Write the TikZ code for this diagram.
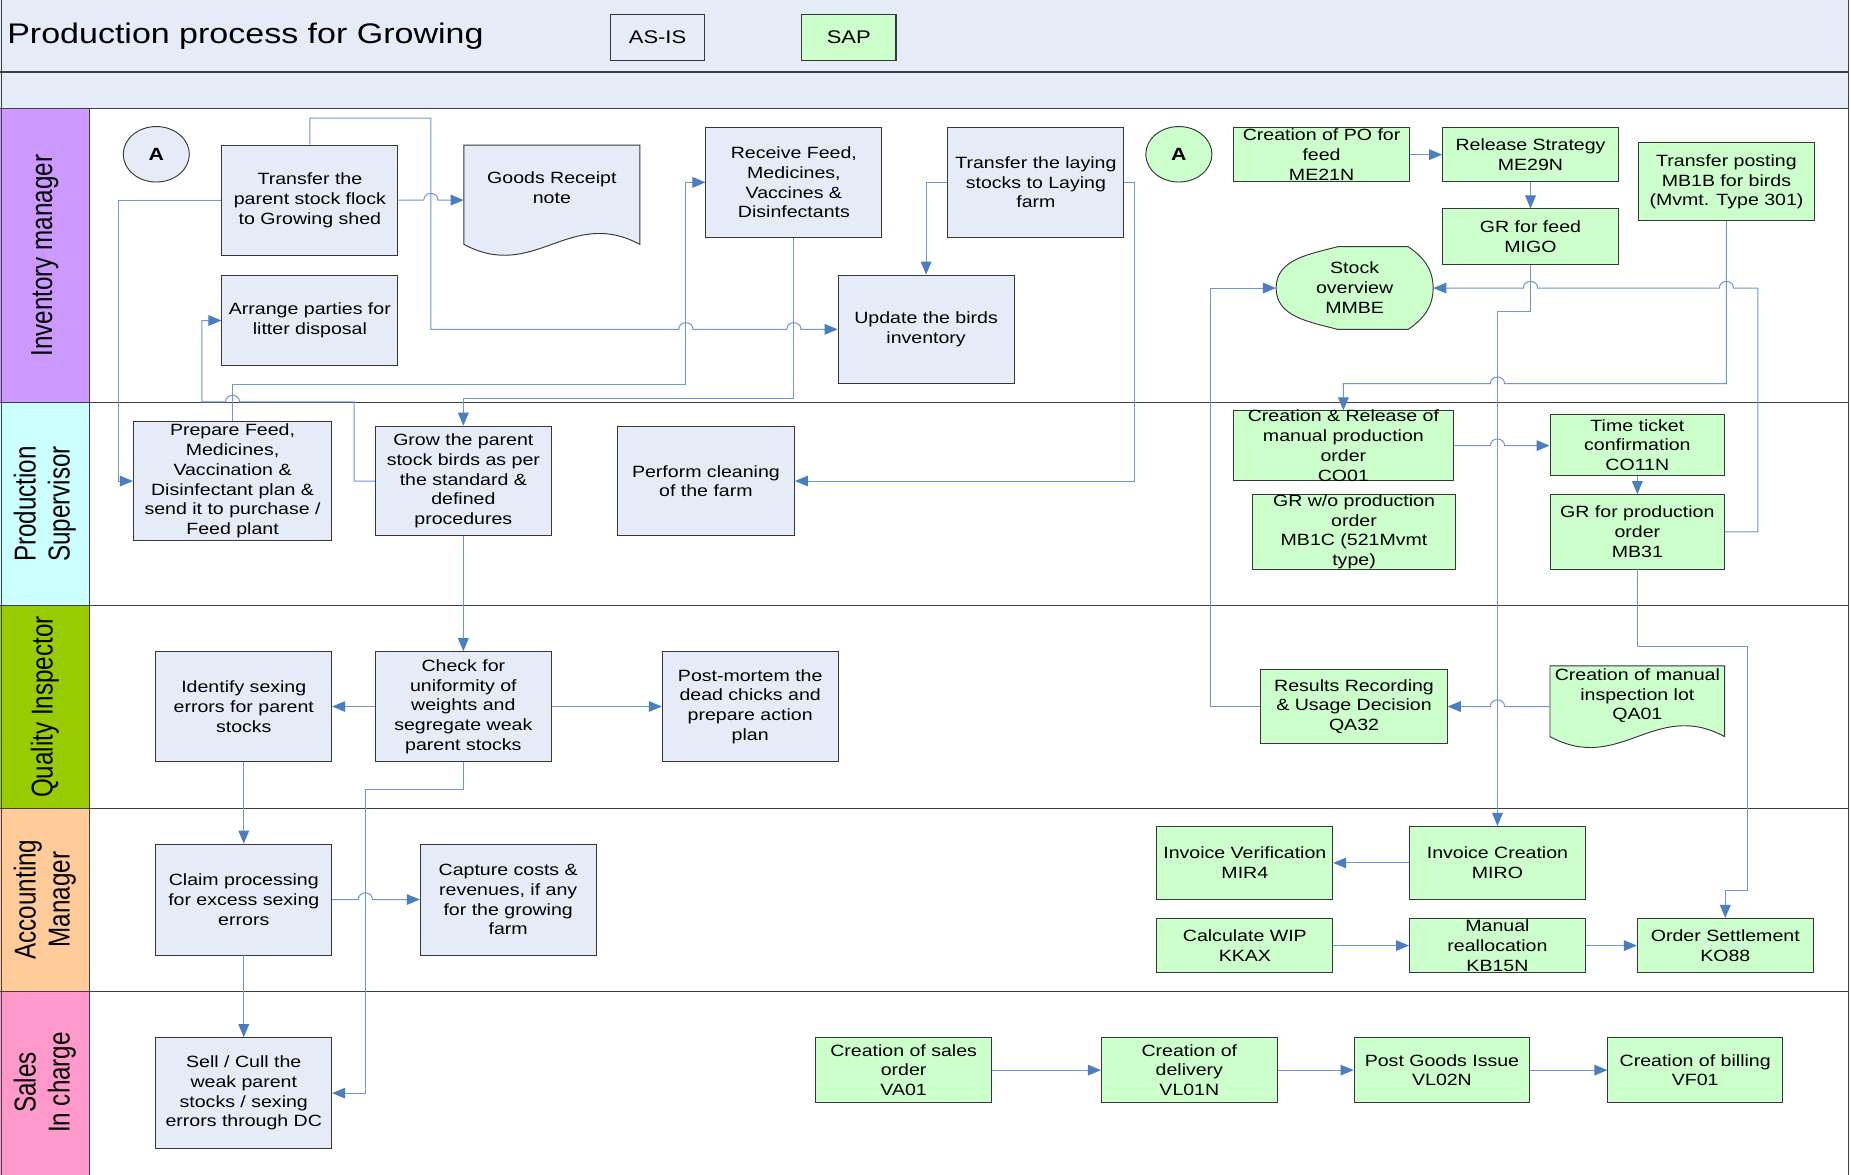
\documentclass[tikz,border=0pt]{standalone}
\usepackage{fontspec}
\setmainfont{Liberation Sans}[FakeStretch=1.2]
\newfontfamily\lanefont{Liberation Sans}
\usetikzlibrary{arrows.meta,shapes.geometric,calc}
\definecolor{hdr}{RGB}{230,236,247}
\definecolor{asisc}{RGB}{230,236,247}
\definecolor{sapc}{RGB}{204,255,204}
\definecolor{linec}{RGB}{110,150,210}
\definecolor{arrc}{RGB}{74,126,193}
\definecolor{edge}{RGB}{55,55,55}
\definecolor{lanegray}{RGB}{64,64,64}
\definecolor{invc}{RGB}{204,153,255}
\definecolor{prodc}{RGB}{204,255,255}
\definecolor{qualc}{RGB}{153,204,0}
\definecolor{accc}{RGB}{255,204,153}
\definecolor{salesc}{RGB}{255,153,204}
\newcommand\boxfont{\fontsize{13.8}{16.7}\selectfont}
\newcommand\bx[7]{%
  \node[#2, minimum width={#5pt-#3pt}, minimum height={#6pt-#4pt}] (#1) at ({(#3+#5)/2},{(#4+#6)/2}) {};
  \node[txt] (#1-t) at (#1.center) {#7};}
\tikzset{
  asis/.style={draw=edge, line width=0.8pt, fill=asisc, inner sep=0pt},
  sap/.style={draw=edge, line width=0.8pt, fill=sapc, inner sep=0pt},
  ghost/.style={draw=none, inner sep=0pt},
  txt/.style={align=center, font=\boxfont, inner sep=0pt, text=black},
  con/.style={draw=linec, line width=0.85pt, -{Triangle[length=11pt,width=9pt,color=arrc]}},
  lane/.style={draw=lanegray, line width=1.4pt},
  lanelabel/.style={rotate=90, yscale=1.25, font=\lanefont\fontsize{20.5}{23}\selectfont, align=center, inner sep=0pt},
  legend/.style={draw=edge, line width=0.9pt, minimum width=80pt, minimum height=39pt, inner sep=0pt, font=\fontsize{15.5}{18}\selectfont},
  conn/.style={ellipse, draw=edge, line width=0.8pt, minimum width=56pt, minimum height=47pt, inner sep=0pt, font=\fontsize{15}{18}\selectfont\bfseries}
}
\begin{document}
\begin{tikzpicture}[x=1pt,y=-1pt]
\useasboundingbox (0,0) rectangle (1568,995);
\fill[white] (0,0) rectangle (1568,995);
\fill[hdr] (0,0) rectangle (1566,92);
% lane label fills
\fill[invc] (0,92) rectangle (76,341);
\fill[prodc] (0,341) rectangle (76,513);
\fill[qualc] (0,513) rectangle (76,685);
\fill[accc] (0,685) rectangle (76,840);
\fill[salesc] (0,840) rectangle (76,995);
% frame and lane lines
\draw[lane] (0,61) -- (1566,61);
\draw[lane] (0,92) -- (1566,92);
\draw[lane] (0,341) -- (1566,341);
\draw[lane] (0,513) -- (1566,513);
\draw[lane] (0,685) -- (1566,685);
\draw[lane] (0,840) -- (1566,840);
\draw[draw=lanegray, line width=1pt] (76,92) -- (76,995);
\draw[draw=lanegray, line width=1pt] (1,0) -- (1,995);
\draw[lane] (1566,0) -- (1566,995);

% title and legend
\node[anchor=base west, inner sep=0pt, font=\fontsize{24}{28}\selectfont] (title) at (6,36.5) {Production process for Growing};
\node[legend, fill=asisc] (asislegend) at (557,31.5) {AS-IS};
\node[legend, fill=sapc] (saplegend) at (719,31.5) {SAP};

% lane labels
\node[lanelabel] (lab-inv) at (38,216.5) {Inventory manager};
\node[lanelabel] (lab-prod) at (38,427) {Production\\Supervisor};
\node[lanelabel] (lab-qual) at (38,599) {Quality Inspector};
\node[lanelabel] (lab-acc) at (38,762) {Accounting\\Manager};
\node[lanelabel] (lab-sales) at (38,917) {Sales\\In charge};

% connectors circles
\node[conn, fill=asisc] (ca1) at (132.4,130.7) {A};
\node[conn, fill=sapc] (ca2) at (998.6,130.7) {A};

% Inventory manager lane
\bx{t1}{asis}{188}{123}{337}{216}{Transfer the\\parent stock flock\\to Growing shed}
\bx{ap}{asis}{188}{233}{337}{310}{Arrange parties for\\litter disposal}
\draw[asis] (393,123) -- (542,123) -- (542,207) .. controls (482.4,175) and (452.6,239) .. (393,207) -- cycle;
\node[ghost, minimum width=149pt, minimum height=84pt] (grn) at (467.5,165) {};
\node[txt] (grn-t) at (467.5,159) {Goods Receipt\\note};
\bx{rf}{asis}{598}{108}{747}{201}{Receive Feed,\\Medicines,\\Vaccines \&\\Disinfectants}
\bx{tl}{asis}{803}{108}{952}{201}{Transfer the laying\\stocks to Laying\\farm}
\bx{ub}{asis}{710}{233}{859}{325}{Update the birds\\inventory}
\bx{po}{sap}{1045}{108}{1194}{154}{Creation of PO for\\feed\\ME21N}
\bx{rs}{sap}{1222}{108}{1371}{154}{Release Strategy\\ME29N}
\bx{grf}{sap}{1222}{177}{1371}{224}{GR for feed\\MIGO}
\bx{tp}{sap}{1388}{121}{1537}{187}{Transfer posting\\MB1B for birds\\(Mvmt. Type 301)}
\draw[sap] (1133,209) -- (1193,209) to[out=-35,in=90] (1214,244) to[out=-90,in=35] (1193,279) -- (1133,279) to[out=165,in=-90] (1081,244) to[out=90,in=195] (1133,209) -- cycle;
\node[ghost, minimum width=133pt, minimum height=70pt] (mmbe) at (1147.5,244) {};
\node[txt] (mmbe-t) at (1147.5,243.5) {Stock\\overview\\MMBE};

% Production supervisor lane
\bx{pf}{asis}{113}{357}{281}{458}{Prepare Feed,\\Medicines,\\Vaccination \&\\Disinfectant plan \&\\send it to purchase /\\Feed plant}
\bx{gp}{asis}{318}{361}{467}{454}{Grow the parent\\stock birds as per\\the standard \&\\defined\\procedures}
\bx{pc}{asis}{523}{361}{673}{454}{Perform cleaning\\of the farm}
\bx{cr}{sap}{1045}{348}{1231}{407}{Creation \& Release of\\manual production\\order\\CO01}
\bx{grw}{sap}{1061}{419}{1233}{482}{GR w/o production\\order\\MB1C (521Mvmt\\type)}
\bx{tt}{sap}{1313}{351}{1461}{403}{Time ticket\\confirmation\\CO11N}
\bx{grp}{sap}{1313}{419}{1461}{482}{GR for production\\order\\MB31}

% Quality inspector lane
\bx{is}{asis}{132}{552}{281}{645}{Identify sexing\\errors for parent\\stocks}
\bx{cu}{asis}{318}{552}{467}{645}{Check for\\uniformity of\\weights and\\segregate weak\\parent stocks}
\bx{pm}{asis}{561}{552}{710}{645}{Post-mortem the\\dead chicks and\\prepare action\\plan}
\bx{rr}{sap}{1068}{567}{1226}{630}{Results Recording\\\& Usage Decision\\QA32}
\draw[sap] (1313,564) -- (1461,564) -- (1461,624) .. controls (1401.8,592) and (1372.2,656) .. (1313,624) -- cycle;
\node[ghost, minimum width=148pt, minimum height=69pt] (qa) at (1387,598.5) {};
\node[txt] (qa-t) at (1387,589.5) {Creation of manual\\inspection lot\\QA01};

% Accounting manager lane
\bx{cp}{asis}{132}{715}{281}{809}{Claim processing\\for excess sexing\\errors}
\bx{cc}{asis}{356}{715}{505}{809}{Capture costs \&\\revenues, if any\\for the growing\\farm}
\bx{iv}{sap}{980}{700}{1129}{762}{Invoice Verification\\MIR4}
\bx{ic}{sap}{1194}{700}{1343}{762}{Invoice Creation\\MIRO}
\bx{cw}{sap}{980}{778}{1129}{824}{Calculate WIP\\KKAX}
\bx{mr}{sap}{1194}{778}{1343}{824}{Manual\\reallocation\\KB15N}
\bx{os}{sap}{1387}{778}{1536}{824}{Order Settlement\\KO88}

% Sales lane
\bx{sc}{asis}{132}{879}{281}{973}{Sell / Cull the\\weak parent\\stocks / sexing\\errors through DC}
\bx{va}{sap}{691}{879}{840}{934}{Creation of sales\\order\\VA01}
\bx{vl}{sap}{933}{879}{1082}{934}{Creation of\\delivery\\VL01N}
\bx{pgi}{sap}{1147}{879}{1296}{934}{Post Goods Issue\\VL02N}
\bx{bl}{sap}{1362}{879}{1510}{934}{Creation of billing\\VF01}

% ---- connectors ----
\draw[con] (t1.north) -- (262.5,100) -- (365,100) -- (365,279) -- (575,279) .. controls (575,271.5) and (587,271.5) .. (587,279) -- (666.5,279) .. controls (666.5,271.5) and (678.5,271.5) .. (678.5,279) -- (ub.west);
\draw[con] (t1.east) -- (359,169.5) .. controls (359,162) and (371,162) .. (371,169.5) -- (t1.east -| grn.west);
\draw[con] (t1.west) -- (100,169.5) -- (100,407.5) -- (pf.west);
\draw[con] (pf.north) -- (197,326) -- (581,326) -- (581,154.5) -- (rf.west);
\draw[con] (gp.west) -- (300,407.5) -- (300,340.5) -- (203,340.5) .. controls (203,333) and (191,333) .. (191,340.5) -- (171,340.5) -- (171,271.5) -- (ap.west);
\draw[con] (rf.south) -- (672.5,337.5) -- (392.5,337.5) -- (gp.north);
\draw[con] (tl.west) -- (784.5,154.5) -- (ub.north);
\draw[con] (tl.east) -- (961,154.5) -- (961,407.5) -- (pc.east);
\draw[con] (po.east) -- (rs.west);
\draw[con] (rs.south) -- (grf.north);
\draw[con] (grf.south) -- (1296.5,263.5) -- (1268.5,263.5) -- (ic.north);
\draw[con] (grp.east) -- (1489,450.5) -- (1489,244) -- (1468.5,244) .. controls (1468.5,236.5) and (1456.5,236.5) .. (1456.5,244) -- (1302.5,244) .. controls (1302.5,236.5) and (1290.5,236.5) .. (1290.5,244) -- (mmbe.east);
\draw[con] (tp.south) -- (1462.5,325) -- (1274.5,325) .. controls (1274.5,317.5) and (1262.5,317.5) .. (1262.5,325) -- (1138,325) -- (cr.north);
\draw[con] (rr.west) -- (1025,598.5) -- (1025,244) -- (mmbe.west);
\draw[con] (cr.east) -- (1262.5,377.5) .. controls (1262.5,370) and (1274.5,370) .. (1274.5,377.5) -- (cr.east -| tt.west);
\draw[con] (tt.south) -- (grp.north);
\draw[con] (grp.south) -- (1387,548) -- (1480,548) -- (1480,754.5) -- (1461.5,754.5) -- (os.north);
\draw[con] (qa.west) -- (1274.5,598.5) .. controls (1274.5,591) and (1262.5,591) .. (1262.5,598.5) -- (qa.west -| rr.east);
\draw[con] (gp.south) -- (cu.north);
\draw[con] (cu.west) -- (is.east);
\draw[con] (cu.east) -- (pm.west);
\draw[con] (cu.south) -- (392.5,668.5) -- (309.5,668.5) -- (309.5,926) -- (sc.east);
\draw[con] (is.south) -- (cp.north);
\draw[con] (cp.east) -- (303.5,762) .. controls (303.5,754.5) and (315.5,754.5) .. (315.5,762) -- (cc.west);
\draw[con] (cp.south) -- (sc.north);
\draw[con] (ic.west) -- (iv.east);
\draw[con] (cw.east) -- (mr.west);
\draw[con] (mr.east) -- (os.west);
\draw[con] (va.east) -- (vl.west);
\draw[con] (vl.east) -- (pgi.west);
\draw[con] (pgi.east) -- (bl.west);
\end{tikzpicture}
\end{document}
